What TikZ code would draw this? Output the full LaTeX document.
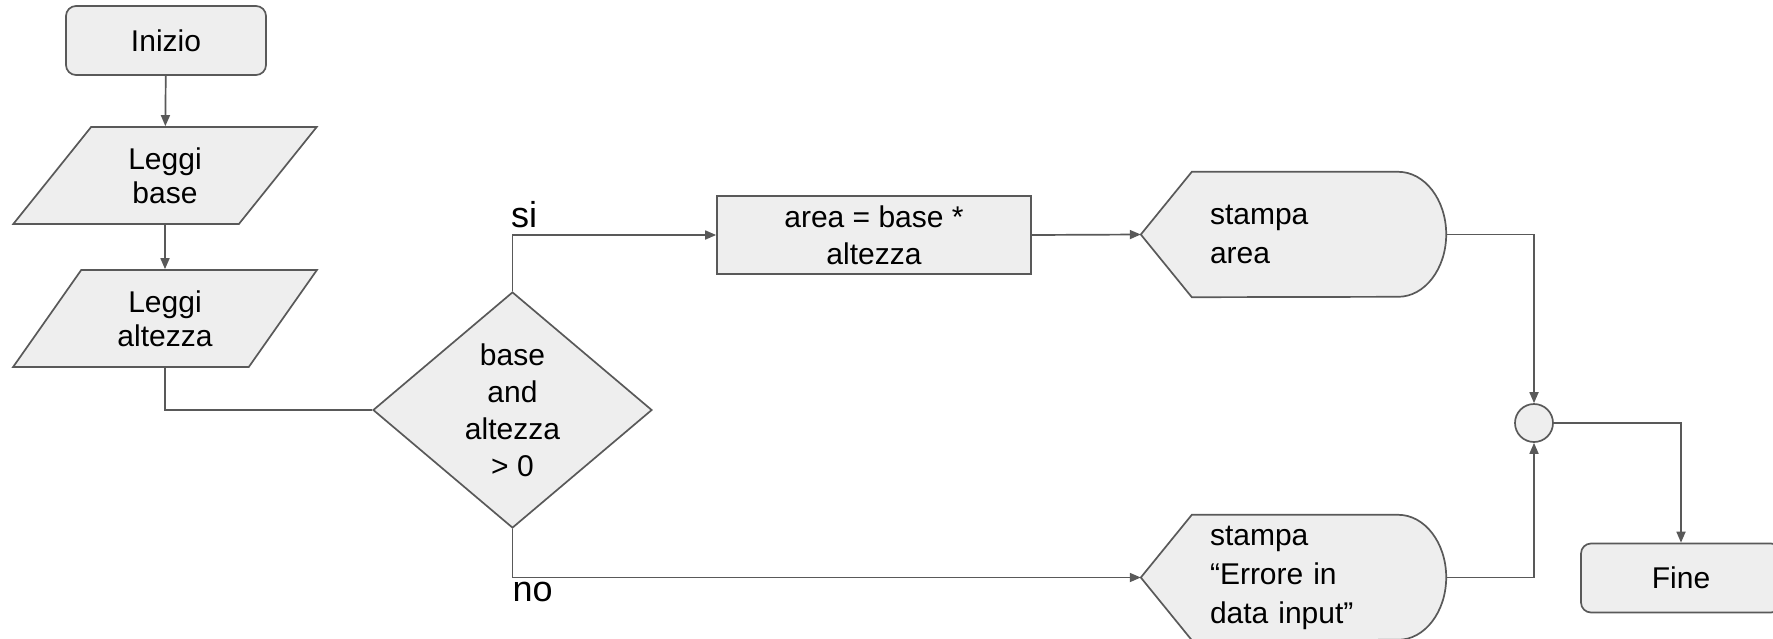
\documentclass[tikz,border=0pt]{standalone}
\usepackage{fontspec}
\setmainfont{Liberation Sans}
\usetikzlibrary{shapes.geometric,arrows.meta,backgrounds}
\definecolor{edge}{HTML}{595959}
\definecolor{boxfill}{HTML}{EEEEEE}

\begin{document}
\begin{tikzpicture}[x=1pt,y=-1pt,
  txt/.style={font=\fontsize{30}{37}\selectfont, text=black},
  base/.style={txt, draw=edge, fill=boxfill, line width=1.7pt, inner sep=0pt, align=center},
  terminal/.style={base, rectangle, rounded corners=10pt, minimum width=200pt, minimum height=69pt},
  io/.style={base, font=\fontsize{30}{34}\selectfont, trapezium, trapezium left angle=55.4,
             trapezium right angle=124.6, trapezium stretches=true,
             minimum width=304pt, minimum height=97pt},
  decision/.style={base, diamond, minimum width=279pt, minimum height=236pt},
  process/.style={base, rectangle, minimum width=314pt, minimum height=78pt},
  display/.style={font=\fontsize{30}{39}\selectfont, text=black, rectangle, inner xsep=69pt,
                  inner ysep=0pt, text width=167pt, align=left, minimum height=125pt},
  link/.style={draw=edge, line width=1.7pt},
  flow/.style={link, -{Triangle[length=11pt,width=9pt]}},
  junction/.style={base, circle, minimum size=38pt},
  branch/.style={font=\fontsize{36}{40}\selectfont, text=black, inner sep=0pt}
]
\useasboundingbox (0,0) rectangle (1773,638);

% nodes
\node[terminal] (ini) at (166,40.5) {Inizio};
\node[io] (lb) at (165,175.5) {Leggi\\base};
\node[io] (la) at (165,318.5) {Leggi\\altezza};
\node[decision] (dec) at (512.5,410) {base\\and\\altezza\\> 0};
\node[process] (proc) at (874,235) {area = base *\\altezza};
\node[display] (sa) at (1293.5,234.5) {stampa\\area};
\node[display] (err) at (1293.5,577.5) {stampa\\“Errore in\\data input”};
\node[junction] (join) at (1534,423) {};
\node[terminal] (fine) at (1681,578) {Fine};

% display outlines behind the output texts
\begin{scope}[on background layer]
  \foreach \n in {sa,err}
    \draw[draw=edge, fill=boxfill, line width=1.7pt]
      (\n.west) -- ([xshift=51pt]\n.north west) -- ([xshift=-48pt]\n.north east)
      arc[start angle=90, end angle=-90, x radius=48pt, y radius=62.5pt]
      -- ([xshift=51pt]\n.south west) -- cycle;
\end{scope}

% connectors
\draw[flow] (ini) -- (lb);
\draw[flow] (lb) -- (la);
\draw[link] (la.south) |- (dec.west);
\draw[flow] (dec.north) |- (proc.west) coordinate[pos=0.5] (siturn);
\draw[flow] (dec.south) |- (err.west) coordinate[pos=0.5] (noturn);
\draw[flow] (proc.east) -- (sa.west);
\draw[flow] (sa.east) -| (join.north);
\draw[flow] (err.east) -| (join.south);
\draw[flow] (join.east) -| (fine.north);

% branch labels
\node[branch, anchor=base west] (si) at ([xshift=-1.5pt,yshift=8pt]siturn) {si};
\node[branch, anchor=base west] (no) at ([yshift=-24pt]noturn) {no};
\end{tikzpicture}
\end{document}
